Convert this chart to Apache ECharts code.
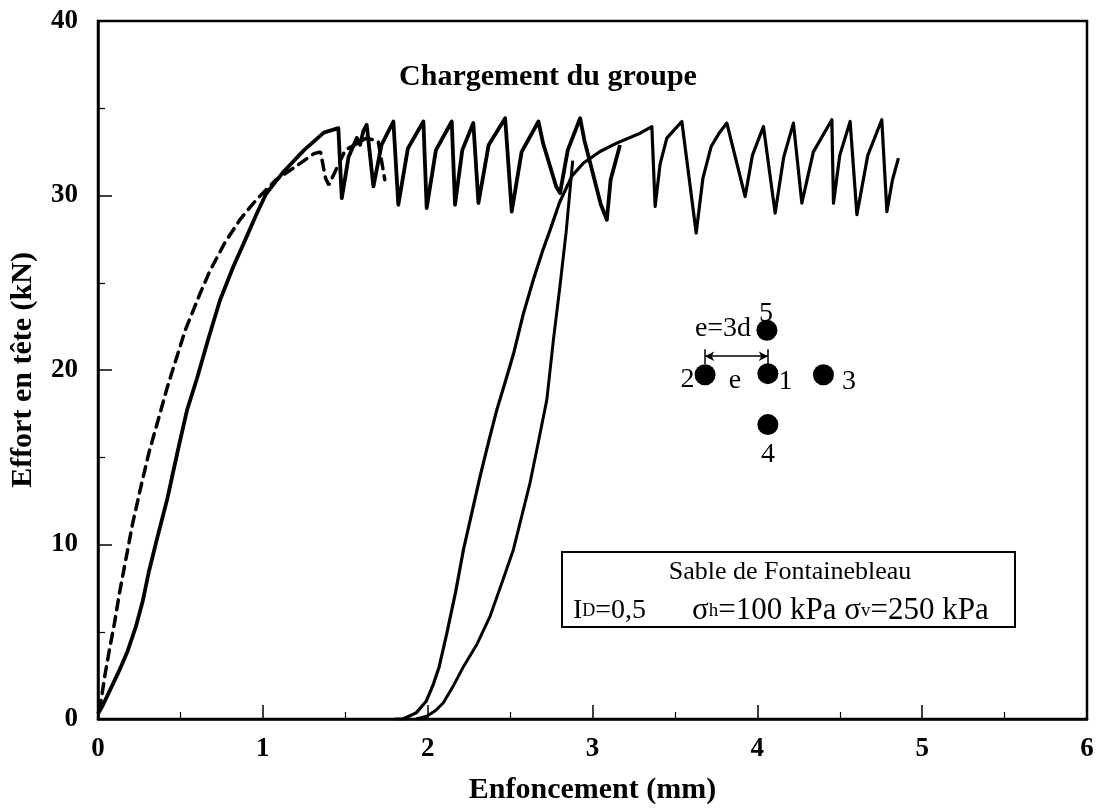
<!DOCTYPE html>
<html>
<head>
<meta charset="utf-8">
<script src="https://cdn.jsdelivr.net/npm/echarts@6/dist/echarts.min.js"></script>
<style>html,body{margin:0;padding:0;background:#fff}#c{width:1106px;height:811px}</style>
</head>
<body>
<div id="c"></div>
<script>
// ---- data ----
// first loading (solid) + stick-slip sawtooth
const loadX = [0.0,0.03,0.08,0.13,0.18,0.23,0.27,0.31,0.36,0.42,0.48,0.54,0.60,0.67,0.74,0.82,0.90,0.96,1.02,1.12,1.25,1.37,1.458,1.479,1.52,1.57,1.59,1.61,1.630,1.671,1.72,1.792,1.822,1.88,1.974,1.994,2.05,2.146,2.166,2.21,2.277,2.308,2.37,2.470,2.510,2.57,2.672,2.70,2.78,2.803,2.85,2.925,2.95,3.05,3.087,3.11,3.167];
const loadY = [0.3,0.8,1.8,2.8,3.9,5.3,6.7,8.5,10.4,12.6,15.2,17.7,19.5,21.8,24.0,25.9,27.6,28.9,30.1,31.3,32.6,33.6,33.86,29.85,32.2,33.3,32.9,33.7,34.05,30.52,32.9,34.24,29.47,32.7,34.24,29.28,32.6,34.24,29.47,32.6,34.15,29.57,32.9,34.43,29.08,32.5,34.24,33.0,30.5,30.14,32.6,34.43,33.2,29.5,28.61,30.9,32.9];
// dashed curve
const dashX = [0.01,0.04,0.07,0.10,0.13,0.17,0.21,0.26,0.31,0.37,0.42,0.47,0.53,0.62,0.68,0.77,0.86,0.96,1.08,1.19,1.31,1.35,1.38,1.40,1.50,1.63,1.70,1.74];
const dashY = [0.5,2.4,4.0,5.5,7.2,9.2,11.2,13.3,15.3,17.3,19.0,20.5,22.3,24.4,25.7,27.3,28.6,29.75,30.9,31.6,32.4,32.5,31.0,30.6,32.6,33.3,33.1,30.9];
// reloading curve A (left) continuing into the sawtooth
const reloadAX = [1.80,1.85,1.93,1.99,2.035,2.07,2.116,2.17,2.217,2.27,2.318,2.37,2.419,2.47,2.52,2.58,2.641,2.70,2.743,2.80,2.874,2.945,3.046,3.147,3.289,3.360,3.380,3.41,3.451,3.50,3.542,3.629,3.67,3.720,3.77,3.815,3.926,3.97,4.037,4.108,4.16,4.219,4.270,4.34,4.452,4.462,4.50,4.563,4.604,4.67,4.755,4.786,4.82,4.856];
const reloadAY = [0,0,0.35,1.0,2.0,3.0,4.9,7.3,9.7,11.9,13.9,15.9,17.7,19.3,20.9,23.2,25.17,26.9,28.03,29.6,31.1,31.86,32.52,33.0,33.57,33.95,29.37,31.8,33.29,33.8,34.24,27.85,31.0,32.81,33.6,34.15,29.94,32.3,33.95,28.99,32.2,34.15,29.56,32.5,34.34,29.56,32.3,34.24,28.9,32.3,34.34,29.08,30.9,32.14];
// reloading curve B (right)
const reloadBX = [1.93,1.995,2.05,2.095,2.15,2.217,2.30,2.379,2.45,2.520,2.57,2.621,2.67,2.723,2.763,2.80,2.84,2.88];
const reloadBY = [0,0.16,0.5,0.93,1.8,3.0,4.3,5.9,7.8,9.7,11.6,13.53,15.8,18.3,21.74,24.6,27.9,32.0];
// pile group sketch
const pileNames = ['1','2','3','4','5'];
const pileX = [4.064,3.683,4.401,4.064,4.058];
const pileY = [19.79,19.73,19.73,16.87,22.28];
// axes
const xTicks = [0,1,2,3,4,5,6];
const yTicks = [0,10,20,30,40];

// ---- build ----
const pairs = (xs, ys) => xs.map((x, i) => [x, ys[i]]);
const FONT = 'Liberation Serif, Times New Roman, serif';
const labelLayout = [
  {position:'right', offset:[-2,8]},
  {position:'left', offset:[2,5]},
  {position:'right', offset:[6,7]},
  {position:'bottom', offset:[0,4]},
  {position:'top', offset:[-1,10]}
];
const pileData = pileX.map((x, i) => ({
  value:[x, pileY[i]],
  label:{show:true, formatter:pileNames[i], position:labelLayout[i].position, offset:labelLayout[i].offset,
         color:'#000', fontFamily:FONT, fontSize:28, distance:2, opacity:1}
}));
const arrowY = pileY[0] + 1.0;

const chart = echarts.init(document.getElementById('c'), null, {renderer:'canvas'});
const lineCommon = {type:'line', showSymbol:false, symbol:'none', silent:true, animation:false, z:3};
chart.setOption({
  animation:false,
  backgroundColor:'#fff',
  grid:{left:98, right:19, top:21, bottom:92, show:true, borderColor:'#000', borderWidth:2.5, backgroundColor:'transparent'},
  xAxis:{
    type:'value', min:xTicks[0], max:xTicks[xTicks.length-1], interval:1,
    name:'Enfoncement (mm)', nameLocation:'middle', nameGap:56,
    nameTextStyle:{fontFamily:FONT, fontWeight:'bold', fontSize:30, color:'#000'},
    axisLine:{show:true, lineStyle:{color:'#000', width:2.5}},
    axisTick:{show:true, inside:true, length:14, lineStyle:{color:'#000', width:1.5}},
    minorTick:{show:true, splitNumber:2, length:7, lineStyle:{color:'#000', width:1.2}},
    splitLine:{show:false},
    axisLabel:{fontFamily:FONT, fontWeight:'bold', fontSize:27, color:'#000', margin:17}
  },
  yAxis:{
    type:'value', min:yTicks[0], max:yTicks[yTicks.length-1], interval:10,
    name:'Effort en tête (kN)', nameLocation:'middle', nameGap:60,
    nameTextStyle:{fontFamily:FONT, fontWeight:'bold', fontSize:30, color:'#000'},
    axisLine:{show:true, lineStyle:{color:'#000', width:2.5}},
    axisTick:{show:true, inside:true, length:14, lineStyle:{color:'#000', width:1.5}},
    minorTick:{show:true, splitNumber:2, length:7, lineStyle:{color:'#000', width:1.2}},
    splitLine:{show:false},
    axisLabel:{fontFamily:FONT, fontWeight:'bold', fontSize:27, color:'#000', margin:20}
  },
  series:[
    Object.assign({}, lineCommon, {name:'load', data:pairs(loadX, loadY), lineStyle:{color:'#000', width:3.8, join:'round'}}),
    Object.assign({}, lineCommon, {name:'dash', data:pairs(dashX, dashY), lineStyle:{color:'#000', width:3.5, type:[10,7], cap:'round'}}),
    Object.assign({}, lineCommon, {name:'reloadA', data:pairs(reloadAX, reloadAY), lineStyle:{color:'#000', width:3.2, join:'round'}}),
    Object.assign({}, lineCommon, {name:'reloadB', data:pairs(reloadBX, reloadBY), lineStyle:{color:'#000', width:3.0, join:'round'}}),
    {
      type:'scatter', name:'piles', silent:true, animation:false, z:4,
      symbol:'circle', symbolSize:21, itemStyle:{color:'#000', opacity:1},
      emphasis:{disabled:true},
      data:pileData,
      markLine:{
        silent:true, animation:false, symbol:['arrow','arrow'], symbolSize:[7,9],
        lineStyle:{color:'#000', width:1.5, type:'solid', opacity:1}, label:{show:false},
        emphasis:{disabled:true},
        data:[
          [{coord:[pileX[1], arrowY]}, {coord:[pileX[0], arrowY]}],
          [{coord:[pileX[1], arrowY-0.45], symbol:'none'}, {coord:[pileX[1], arrowY+0.4], symbol:'none'}],
          [{coord:[pileX[0], arrowY-0.55], symbol:'none'}, {coord:[pileX[0], arrowY+0.4], symbol:'none'}]
        ]
      }
    }
  ],
  graphic:[
    {type:'text', x:548, y:77, style:{text:'Chargement du groupe', font:'bold 30px ' + FONT, fill:'#000', align:'center', verticalAlign:'middle'}},
    {type:'text', x:723, y:329, style:{text:'e=3d', font:'28px ' + FONT, fill:'#000', align:'center', verticalAlign:'middle'}},
    {type:'text', x:735, y:381, style:{text:'e', font:'28px ' + FONT, fill:'#000', align:'center', verticalAlign:'middle'}},
    {type:'rect', shape:{x:562, y:552, width:453, height:75}, style:{fill:'#fff', stroke:'#000', lineWidth:2}, z:10},
    {type:'text', x:790, y:572, z:11, style:{text:'Sable de Fontainebleau', font:'26px ' + FONT, fill:'#000', align:'center', verticalAlign:'middle'}},
    {type:'text', x:573, y:611, z:11, style:{text:'I{d|D}=0,5', font:'28px ' + FONT, fill:'#000', align:'left', verticalAlign:'middle',
      rich:{d:{fontSize:18, fontFamily:FONT, fill:'#000'}}}},
    {type:'text', x:692, y:611, z:11, style:{text:'σ{s|h}=100 kPa σ{s|v}=250 kPa', font:'31px ' + FONT, fill:'#000', align:'left', verticalAlign:'middle',
      rich:{s:{fontSize:19, fontFamily:FONT, fill:'#000'}}}}
  ]
});
</script>
</body>
</html>
